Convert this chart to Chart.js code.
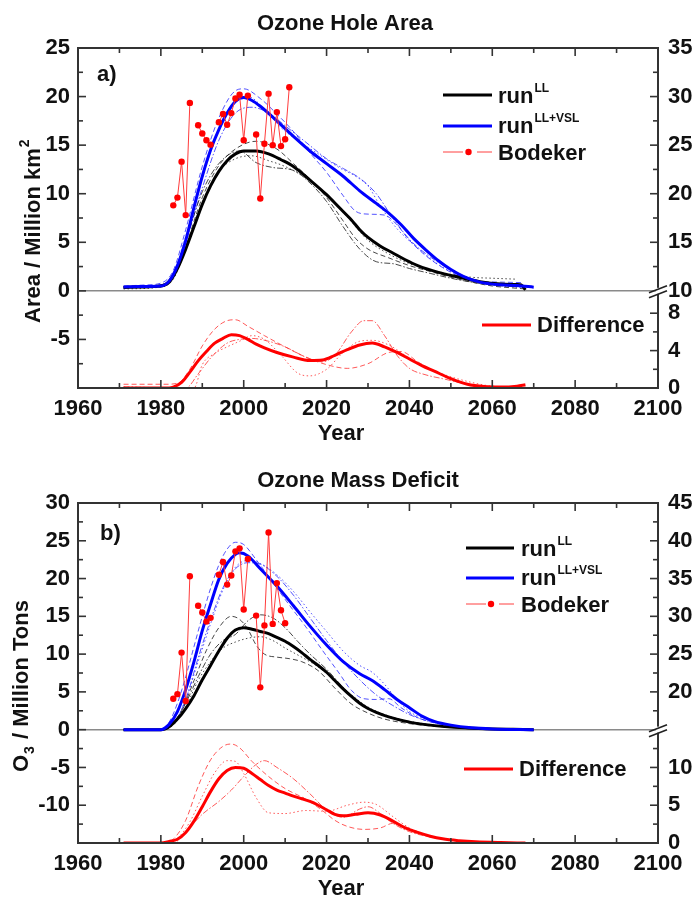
<!DOCTYPE html>
<html><head><meta charset="utf-8">
<script src="https://cdn.jsdelivr.net/npm/chart.js@4.4.0/dist/chart.umd.min.js"></script>
<style>
html,body{margin:0;padding:0;background:#fff;}
#wrap{width:694px;height:897px;position:relative;overflow:hidden;}
.pane{position:absolute;left:0;width:694px;}
</style></head><body>
<div id="wrap">
<div class="pane" style="top:0;height:450px"><canvas id="ca" width="694" height="450"></canvas></div>
<div class="pane" style="top:450px;height:447px"><canvas id="cb" width="694" height="447"></canvas></div>
</div>
<script>
// ---------- tick labels ----------
const xTickYears = [1960, 1980, 2000, 2020, 2040, 2060, 2080, 2100];
const leftTicksA = [-5, 0, 5, 10, 15, 20, 25];
const rightTicksA = [10, 15, 20, 25, 30, 35];
const diffTicksA = [0, 4, 8];
const leftTicksB = [-10, -5, 0, 5, 10, 15, 20, 25, 30];
const rightTicksB = [20, 25, 30, 35, 40, 45];
const diffTicksB = [0, 5, 10];

// ---------- panel a: Ozone hole area (million km2) ----------
const areaLL = [[1971,0.35],[1975,0.4],[1980,0.5],[1982,0.9],[1984,2.3],[1986,4.3],[1988,6.6],[1990,8.9],[1992,10.8],[1994,12.3],[1996,13.4],[1998,14.1],[2000,14.4],[2003,14.4],[2006,14.1],[2009,13.5],[2012,12.8],[2016,11.4],[2020,9.9],[2023,8.6],[2026,7.3],[2028,6.3],[2030,5.5],[2033,4.6],[2036,3.9],[2039,3.2],[2042,2.6],[2047,1.9],[2052,1.4],[2057,0.95],[2062,0.7],[2066,0.65],[2067,0.6],[2068,0.1]];
const areaVSL = [[1971,0.4],[1975,0.45],[1980,0.5],[1982,1.0],[1984,2.6],[1986,5.2],[1988,8.6],[1990,11.8],[1992,14.5],[1994,16.6],[1996,18.3],[1998,19.5],[2000,19.9],[2002,19.6],[2004,19.0],[2008,17.5],[2012,15.9],[2016,14.4],[2020,13.1],[2024,11.8],[2028,10.3],[2032,9.0],[2035,8.0],[2038,6.8],[2041,5.4],[2044,4.2],[2047,3.1],[2050,2.2],[2053,1.5],[2057,0.9],[2062,0.62],[2066,0.55],[2070,0.38]];
const areaLL_m1 = [[1971,0.3],[1976,0.4],[1980,0.5],[1983,1.5],[1986,4.6],[1990,9.6],[1994,12.9],[1998,14.6],[2003,15.4],[2008,14.6],[2012,13.1],[2016,11.5],[2020,9.6],[2024,7.2],[2027,5.4],[2030,4.3],[2035,3.4],[2040,2.6],[2045,2.0],[2050,1.4],[2055,0.9],[2060,0.5],[2065,0.3],[2068,0.2]];
const areaLL_m2 = [[1971,0.4],[1980,0.6],[1983,1.8],[1986,5.2],[1990,10.2],[1994,13.1],[1999,14.4],[2003,13.2],[2007,12.7],[2012,12.4],[2016,11.1],[2020,9.2],[2024,6.6],[2028,4.3],[2032,3.0],[2036,2.8],[2040,2.3],[2045,1.8],[2050,1.3],[2055,0.9],[2060,0.6],[2066,0.4]];
const areaLL_m3 = [[1971,0.2],[1980,0.4],[1983,1.2],[1986,4.3],[1990,9.1],[1994,12.3],[1998,13.6],[2002,13.9],[2006,13.4],[2010,12.8],[2015,11.6],[2020,9.8],[2025,7.6],[2030,5.2],[2035,3.8],[2040,2.8],[2045,2.2],[2050,1.7],[2055,1.4],[2060,1.3],[2066,1.2]];
const areaVSL_m1 = [[1971,0.5],[1976,0.6],[1980,0.8],[1983,2.1],[1986,6.3],[1990,12.8],[1994,17.8],[1998,20.6],[2000,20.8],[2004,19.8],[2008,18.2],[2012,16.4],[2016,14.2],[2020,12.2],[2024,9.8],[2027,8.2],[2030,7.9],[2034,7.8],[2037,6.8],[2040,5.2],[2044,3.6],[2048,2.4],[2052,1.5],[2056,1.0],[2062,0.9],[2067,0.85]];
const areaVSL_m2 = [[1971,0.4],[1980,0.6],[1983,1.5],[1986,5.0],[1990,10.6],[1994,15.5],[1998,18.3],[2002,18.9],[2006,18.3],[2010,17.0],[2015,15.3],[2020,13.6],[2024,12.6],[2028,11.6],[2032,10.0],[2036,7.5],[2040,5.3],[2045,3.5],[2050,2.2],[2055,1.2],[2060,0.7],[2066,0.4]];
const areaVSL_m3 = [[1971,0.4],[1980,0.6],[1983,1.7],[1986,5.6],[1990,11.6],[1994,16.6],[1998,19.6],[2001,20.0],[2005,18.7],[2009,16.8],[2013,15.5],[2018,14.1],[2023,12.7],[2027,11.8],[2030,10.8],[2033,8.7],[2037,6.4],[2042,4.4],[2047,2.7],[2052,1.6],[2057,0.9],[2062,0.6],[2068,0.3]];
const bodekerYears = [1983,1984,1985,1986,1987,1988,1989,1990,1991,1992,1993,1994,1995,1996,1997,1998,1999,2000,2001,2002,2003,2004,2005,2006,2007,2008,2009,2010,2011];
const bodekerArea = [8.8,9.6,13.3,7.8,19.35,null,17.05,16.2,15.5,15.05,null,17.35,18.2,17.1,18.3,19.8,20.2,15.5,20.1,null,16.1,9.5,15.15,20.3,15.0,18.4,14.9,15.6,20.96];
const diffArea = [[1971,0],[1982,0],[1983,0.1],[1985,0.6],[1987,1.7],[1989,2.9],[1991,3.9],[1993,4.8],[1995,5.3],[1997,5.7],[1999,5.6],[2001,5.2],[2003,4.7],[2005,4.3],[2008,3.8],[2012,3.3],[2016,2.95],[2019,3.0],[2022,3.5],[2025,4.1],[2028,4.6],[2031,4.8],[2034,4.4],[2037,3.8],[2040,3.1],[2043,2.4],[2046,1.8],[2050,1.0],[2054,0.4],[2058,0.15],[2062,0.1],[2066,0.2],[2068,0.35]];
const diffArea_m1 = [[1971,0.4],[1981,0.4],[1984,0.5],[1987,2.0],[1990,4.5],[1993,6.3],[1996,7.2],[1998,7.3],[2001,6.6],[2005,5.6],[2010,4.4],[2015,3.3],[2020,2.5],[2025,2.1],[2030,2.6],[2035,3.8],[2038,3.9],[2042,2.8],[2046,1.8],[2050,0.9],[2055,0.3],[2060,0.1]];
const diffArea_m2 = [[1971,0.1],[1988,0.0],[1990,2.5],[1993,3.7],[1996,4.4],[1999,5.0],[2002,5.6],[2005,5.2],[2009,3.5],[2013,1.6],[2016,1.3],[2020,2.0],[2024,3.8],[2028,5.0],[2031,5.1],[2035,4.6],[2040,3.2],[2045,2.0],[2050,1.2],[2055,0.6],[2060,0.2],[2068,0.1]];
const diffArea_m3 = [[1971,0.1],[1986,0.0],[1989,1.5],[1992,3.2],[1996,4.8],[1999,5.2],[2002,5.3],[2006,5.0],[2010,4.4],[2015,3.3],[2019,2.8],[2022,3.5],[2026,6.0],[2029,7.2],[2031,7.2],[2034,5.6],[2037,3.5],[2040,2.1],[2044,1.4],[2048,1.0],[2052,0.6],[2056,0.3],[2062,0.1]];

// ---------- panel b: Ozone mass deficit (million tons) ----------
const massLL = [[1971,0],[1980,0],[1982,0.4],[1984,1.4],[1986,2.8],[1988,4.5],[1990,6.6],[1992,8.5],[1994,10.4],[1996,12.1],[1998,13.2],[2000,13.5],[2002,13.3],[2004,13.0],[2006,12.7],[2008,12.2],[2010,11.7],[2012,11.0],[2014,10.2],[2016,9.3],[2018,8.5],[2020,7.6],[2022,6.5],[2024,5.4],[2026,4.4],[2028,3.5],[2030,2.8],[2032,2.3],[2035,1.7],[2040,1.0],[2045,0.6],[2050,0.35],[2055,0.2],[2060,0.1],[2065,0.05],[2070,0]];
const massVSL = [[1971,0],[1980,0],[1982,0.7],[1984,2.4],[1986,5.3],[1988,9.0],[1990,13.1],[1992,16.6],[1994,19.9],[1996,22.0],[1998,23.2],[1999,23.4],[2001,23.0],[2004,21.3],[2008,19.0],[2012,16.4],[2016,13.7],[2020,11.2],[2024,9.0],[2028,7.4],[2031,6.5],[2034,5.3],[2037,4.0],[2040,2.9],[2043,1.8],[2046,1.1],[2050,0.6],[2055,0.25],[2060,0.1],[2070,0]];
const massLL_m1 = [[1971,0],[1980,0],[1982,0.5],[1985,2.5],[1988,6.5],[1991,10.5],[1994,13.5],[1997,15.0],[1999,14.6],[2001,13.3],[2003,11.2],[2005,10.0],[2008,9.6],[2011,9.4],[2014,9.0],[2018,7.8],[2022,5.5],[2026,3.4],[2030,2.2],[2034,1.4],[2040,0.8],[2045,0.5],[2050,0.3],[2055,0.1],[2062,0]];
const massLL_m2 = [[1971,0],[1980,0],[1983,0.7],[1986,3.5],[1989,7.0],[1992,10.0],[1995,11.8],[1998,12.6],[2001,14.4],[2004,15.2],[2007,14.8],[2010,13.5],[2013,11.7],[2016,10.0],[2020,8.0],[2024,5.6],[2028,3.5],[2032,2.3],[2036,1.6],[2040,1.1],[2045,0.6],[2050,0.3],[2056,0.1],[2064,0]];
const massLL_m3 = [[1971,0],[1980,0],[1983,0.6],[1986,3.0],[1989,6.5],[1992,9.0],[1995,10.8],[1998,11.6],[2001,12.1],[2004,12.3],[2007,11.8],[2010,10.8],[2014,9.6],[2018,8.3],[2022,6.5],[2026,4.6],[2030,3.0],[2034,2.0],[2038,1.3],[2042,0.9],[2048,0.5],[2055,0.2],[2062,0.05]];
const massVSL_m1 = [[1971,0],[1980,0],[1982,1.0],[1984,3.5],[1986,7.0],[1988,11.0],[1990,15.0],[1992,18.7],[1994,21.8],[1996,23.9],[1998,24.8],[2000,24.5],[2003,22.5],[2007,19.5],[2011,16.5],[2015,13.6],[2019,10.5],[2023,7.5],[2026,5.2],[2029,4.1],[2032,4.0],[2035,4.1],[2038,2.9],[2042,1.6],[2046,0.9],[2050,0.5],[2055,0.2],[2062,0.05]];
const massVSL_m2 = [[1971,0],[1980,0],[1983,0.8],[1986,4.0],[1989,9.5],[1992,14.5],[1995,18.8],[1998,21.3],[2001,22.1],[2004,21.9],[2008,20.3],[2012,17.8],[2016,14.8],[2020,11.8],[2024,9.0],[2028,6.6],[2032,4.6],[2036,3.2],[2040,2.0],[2044,1.2],[2048,0.7],[2053,0.3],[2060,0.05]];
const massVSL_m3 = [[1971,0],[1980,0],[1983,0.7],[1986,4.0],[1989,9.0],[1992,14.0],[1995,18.5],[1998,21.5],[2001,22.4],[2004,22.0],[2008,20.5],[2012,18.3],[2016,15.6],[2020,13.0],[2024,10.4],[2028,8.5],[2031,7.6],[2034,6.0],[2037,4.0],[2040,2.4],[2044,1.4],[2048,0.8],[2052,0.4],[2060,0.1]];
const bodekerMass = [4.1,4.7,10.2,3.8,20.3,null,16.4,15.5,14.3,14.8,null,20.5,22.2,19.2,20.4,23.6,24.0,15.9,22.6,null,15.1,5.6,13.8,26.1,14.0,19.4,15.8,14.1,null];
const diffMass = [[1971,0],[1980,0],[1982,0.2],[1984,0.5],[1986,1.4],[1988,2.9],[1990,4.8],[1992,6.8],[1994,8.5],[1996,9.6],[1998,10.0],[2000,9.9],[2002,9.2],[2004,8.4],[2006,7.6],[2008,7.0],[2010,6.6],[2012,6.2],[2014,5.85],[2016,5.5],[2018,5.0],[2020,4.4],[2022,3.8],[2024,3.6],[2027,3.8],[2030,4.0],[2033,3.7],[2036,2.9],[2039,2.0],[2042,1.4],[2045,0.9],[2048,0.55],[2052,0.3],[2056,0.15],[2062,0.05],[2068,0]];
const diffMass_m1 = [[1971,0],[1981,0],[1983,0.5],[1986,3.0],[1989,7.5],[1992,11.0],[1995,12.8],[1997,13.1],[1999,12.6],[2002,10.8],[2006,8.8],[2010,7.2],[2015,5.8],[2019,4.3],[2022,3.0],[2025,2.2],[2029,1.8],[2033,2.0],[2036,2.6],[2039,2.0],[2043,1.2],[2047,0.6],[2052,0.3],[2058,0.1],[2066,0]];
const diffMass_m2 = [[1971,0],[1982,0],[1984,0.6],[1987,2.8],[1990,6.2],[1993,9.3],[1996,10.9],[1998,10.8],[2000,9.2],[2003,6.0],[2006,4.0],[2010,3.9],[2015,4.3],[2020,4.2],[2025,5.0],[2029,5.4],[2032,5.1],[2036,3.5],[2040,2.0],[2044,1.1],[2048,0.6],[2052,0.3],[2058,0.1]];
const diffMass_m3 = [[1971,0],[1983,0],[1986,1.5],[1990,3.8],[1994,5.5],[1997,7.0],[2000,8.8],[2003,10.4],[2005,10.9],[2008,10.0],[2012,8.5],[2016,6.5],[2020,4.4],[2024,3.4],[2028,4.5],[2030,4.8],[2033,3.9],[2036,2.6],[2040,1.5],[2045,0.8],[2050,0.4],[2056,0.15],[2062,0]];

// ---------- drawing ----------
const FONT = "'Liberation Sans', Arial, Helvetica, sans-serif";
const TXT = '#111';
const DASH = [5, 3], DOT = [1.5, 2.5], DASHDOT = [6, 2, 1.5, 2];

function pts(arr) { return arr.map(([x, y]) => ({ x, y })); }
function ln(arr, color, width, dash, axis, order) {
  return { data: pts(arr), borderColor: color, borderWidth: width, borderDash: dash, pointRadius: 0,
    fill: false, yAxisID: axis, cubicInterpolationMode: 'monotone', order: order };
}

function makePanel(canvasId, P) {
  const datasets = [
    { data: bodekerYears.map((x, i) => ({ x, y: P.bodeker[i] })), borderColor: '#ff3b3b', borderWidth: 1,
      pointRadius: 3.2, pointBackgroundColor: '#ff0000', pointBorderWidth: 0, spanGaps: false,
      tension: 0, yAxisID: 'y', order: 0 },
    ln(P.vsl, '#0000ff', 3, [], 'y', 1),
    ln(P.ll, '#000000', 3, [], 'y', 1),
    ln(P.diff, '#ff0000', 3, [], P.diffAxis, 1),
    ln(P.llM[0], 'rgba(40,40,40,0.85)', 1, DASH, 'y', 2),
    ln(P.llM[1], 'rgba(40,40,40,0.85)', 1, DASHDOT, 'y', 2),
    ln(P.llM[2], 'rgba(40,40,40,0.85)', 1, DOT, 'y', 2),
    ln(P.vslM[0], 'rgba(40,40,255,0.8)', 1, DASH, 'y', 2),
    ln(P.vslM[1], 'rgba(40,40,255,0.8)', 1, DASHDOT, 'y', 2),
    ln(P.vslM[2], 'rgba(40,40,255,0.8)', 1, DOT, 'y', 2),
    ln(P.diffM[0], 'rgba(255,60,60,0.85)', 1, DASH, P.diffAxis, 2),
    ln(P.diffM[1], 'rgba(255,60,60,0.85)', 1, DOT, P.diffAxis, 2),
    ln(P.diffM[2], 'rgba(255,60,60,0.85)', 1, DASHDOT, P.diffAxis, 2),
  ];
  const tickFont = { family: FONT, size: 22, weight: 'bold' };

  const deco = {
    id: 'deco',
    beforeDatasetsDraw(chart) {
      const { ctx, chartArea: a, scales } = chart;
      const y0 = scales.y.getPixelForValue(0);
      ctx.save(); ctx.strokeStyle = '#8a8a8a'; ctx.lineWidth = 1.5;
      ctx.beginPath(); ctx.moveTo(a.left, y0); ctx.lineTo(a.right, y0); ctx.stroke(); ctx.restore();
    },
    afterDatasetsDraw(chart) {
      const { ctx, chartArea: a, scales } = chart;
      const sx = scales.x, sy = scales.y, s2 = scales.y2;
      ctx.save();
      ctx.strokeStyle = '#333'; ctx.lineCap = 'butt';
      const seg = (x1, y1, x2, y2) => { ctx.beginPath(); ctx.moveTo(x1, y1); ctx.lineTo(x2, y2); ctx.stroke(); };
      const MA = 8, MI = 5;
      ctx.lineWidth = 1.6;
      for (let yr = 1960; yr <= 2100; yr += 10) {
        const px = sx.getPixelForValue(yr), L = yr % 20 === 0 ? MA : MI;
        seg(px, a.bottom, px, a.bottom - L); seg(px, a.top, px, a.top + L);
      }
      for (let v = P.ymin; v <= P.ymax + 1e-6; v += 2.5) {
        const py = sy.getPixelForValue(v), L = Math.abs(v % 5) < 1e-6 ? MA : MI;
        seg(a.left, py, a.left + L, py);
      }
      P.rightMinor.forEach(v => { const py = s2.getPixelForValue(v); seg(a.right, py, a.right - MI, py); });
      P.rightMajor.forEach(v => { const py = s2.getPixelForValue(v); seg(a.right, py, a.right - MA, py); });
      // frame
      ctx.lineWidth = 2; ctx.strokeStyle = '#333';
      ctx.strokeRect(a.left, a.top, a.right - a.left, a.bottom - a.top);
      // axis break
      const y0 = sy.getPixelForValue(0);
      ctx.fillStyle = '#fff'; ctx.fillRect(a.right - 2, y0 - 3, 4, 6);
      ctx.lineWidth = 1.6; ctx.strokeStyle = '#222';
      seg(a.right - 9, y0 + 2, a.right + 9, y0 - 5);
      seg(a.right - 9, y0 + 7, a.right + 9, y0);
      ctx.restore();
    },
    afterDraw(chart) {
      const { ctx } = chart;
      const L = P.legend;
      ctx.save();
      ctx.fillStyle = TXT; ctx.textBaseline = 'alphabetic';
      const big = 'bold 22px ' + FONT, small = 'bold 12px ' + FONT;
      ctx.font = big; ctx.textAlign = 'center';
      ctx.fillText(P.title, P.titleX, P.titleY);
      ctx.fillText('Year', 341, P.yearY);
      ctx.textAlign = 'left';
      ctx.fillText(P.tag, P.tagX, P.tagY);
      ctx.save();
      ctx.translate(P.ytX, P.ytY); ctx.rotate(-Math.PI / 2);
      let cx = 0;
      P.ytParts.forEach(([t, kind]) => {
        if (kind === 'n') { ctx.font = big; ctx.fillText(t, cx, 0); cx += ctx.measureText(t).width; }
        else if (kind === 'sup') { ctx.font = 'bold 14px ' + FONT; ctx.fillText(t, cx + 1, -11); cx += ctx.measureText(t).width + 1; }
        else { ctx.font = 'bold 14px ' + FONT; ctx.fillText(t, cx + 1, 6); cx += ctx.measureText(t).width + 2; }
      });
      ctx.restore();
      const seg = (x1, y1, x2, y2) => { ctx.beginPath(); ctx.moveTo(x1, y1); ctx.lineTo(x2, y2); ctx.stroke(); };
      ctx.lineWidth = 3; ctx.strokeStyle = '#000'; seg(L.x1, L.yLL, L.x2, L.yLL);
      ctx.strokeStyle = '#0000ff'; seg(L.x1, L.yVSL, L.x2, L.yVSL);
      ctx.lineWidth = 1; ctx.strokeStyle = '#ff4040';
      seg(L.x1, L.yB, L.x1 + 20, L.yB); seg(L.x2 - 15, L.yB, L.x2, L.yB);
      ctx.fillStyle = '#ff0000'; ctx.beginPath(); ctx.arc((L.x1 + L.x2) / 2 + 1, L.yB, 3.2, 0, Math.PI * 2); ctx.fill();
      ctx.lineWidth = 3; ctx.strokeStyle = '#ff0000'; seg(L.dx1, L.yD, L.dx2, L.yD);
      ctx.fillStyle = TXT; ctx.font = big;
      ctx.fillText('run', L.tx, L.yLL + 8);
      const w = ctx.measureText('run').width;
      ctx.fillText('run', L.tx, L.yVSL + 7);
      ctx.fillText('Bodeker', L.tx, L.yB + 8);
      ctx.fillText('Difference', L.dx2 + 6, L.yD + 7);
      ctx.font = small;
      ctx.fillText('LL', L.tx + w + 1, L.yLL - 3);
      ctx.fillText('LL+VSL', L.tx + w + 1, L.yVSL - 4);
      ctx.restore();
    }
  };

  const scales = {
    x: { type: 'linear', min: 1960, max: 2100,
      afterBuildTicks: s => { s.ticks = xTickYears.map(v => ({ value: v })); },
      ticks: { font: tickFont, color: TXT, padding: 8, maxRotation: 0, autoSkip: false, callback: v => String(v) },
      grid: { display: false, drawTicks: false }, border: { display: false },
      afterFit: s => { s.height = P.xHeight; } },
    y: { type: 'linear', position: 'left', min: P.ymin, max: P.ymax,
      afterBuildTicks: s => { s.ticks = P.leftTicks.map(v => ({ value: v })); },
      ticks: { font: tickFont, color: TXT, padding: 8, autoSkip: false, callback: v => String(v) },
      grid: { display: false, drawTicks: false }, border: { display: false },
      afterFit: s => { s.width = 78; } },
    y2: { type: 'linear', position: 'right', min: P.y2min, max: P.y2max,
      afterBuildTicks: s => { s.ticks = P.rightLabelVals.map(v => ({ value: v })); },
      ticks: { font: tickFont, color: TXT, padding: 10, autoSkip: false, callback: v => P.rightLabel(v) },
      grid: { display: false, drawTicks: false }, border: { display: false },
      afterFit: s => { s.width = 36; } }
  };
  if (P.diffAxis === 'y3') scales.y3 = { type: 'linear', display: false, min: 0, max: P.y3max };

  return new Chart(document.getElementById(canvasId), {
    type: 'line',
    data: { datasets },
    options: { responsive: false, animation: false, devicePixelRatio: 1,
      layout: { padding: { top: P.padTop, left: 0, right: 0, bottom: 0 } },
      plugins: { legend: { display: false }, tooltip: { enabled: false }, title: { display: false } },
      scales },
    plugins: [deco]
  });
}

const kA = 0.9625; // lower-right (difference) scale factor for panel a
makePanel('ca', {
  title: 'Ozone Hole Area', titleX: 345, titleY: 30, yearY: 440, tag: 'a)', tagX: 97, tagY: 81,
  ytX: 40, ytY: 323, ytParts: [['Area / Million km', 'n'], ['2', 'sup']],
  ymin: -10, ymax: 25, y2min: 0, y2max: 35, y3max: 35 / kA, padTop: 48, xHeight: 62,
  leftTicks: leftTicksA,
  rightLabelVals: rightTicksA.concat(diffTicksA.map(d => d * kA)),
  rightLabel: v => v >= 9.99 ? String(Math.round(v)) : String(Math.round(v / kA)),
  rightMajor: [15, 20, 25, 30, 35].concat(diffTicksA.map(d => d * kA)),
  rightMinor: [12.5, 17.5, 22.5, 27.5, 32.5, 2 * kA, 6 * kA],
  ll: areaLL, vsl: areaVSL, llM: [areaLL_m1, areaLL_m2, areaLL_m3], vslM: [areaVSL_m1, areaVSL_m2, areaVSL_m3],
  diff: diffArea, diffM: [diffArea_m1, diffArea_m2, diffArea_m3], diffAxis: 'y3', bodeker: bodekerArea,
  legend: { x1: 443, x2: 492, tx: 498, yLL: 95, yVSL: 126, yB: 152, dx1: 482, dx2: 531, yD: 325 }
});
makePanel('cb', {
  title: 'Ozone Mass Deficit', titleX: 358, titleY: 37, yearY: 445, tag: 'b)', tagX: 100, tagY: 90,
  ytX: 28, ytY: 322, ytParts: [['O', 'n'], ['3', 'sub'], [' / Million Tons', 'n']],
  ymin: -15, ymax: 30, y2min: 0, y2max: 45, padTop: 53, xHeight: 54,
  leftTicks: leftTicksB,
  rightLabelVals: rightTicksB.concat(diffTicksB),
  rightLabel: v => String(Math.round(v)),
  rightMajor: [20, 25, 30, 35, 40, 45, 0, 5, 10],
  rightMinor: [17.5, 22.5, 27.5, 32.5, 37.5, 42.5, 2.5, 7.5, 12.5],
  ll: massLL, vsl: massVSL, llM: [massLL_m1, massLL_m2, massLL_m3], vslM: [massVSL_m1, massVSL_m2, massVSL_m3],
  diff: diffMass, diffM: [diffMass_m1, diffMass_m2, diffMass_m3], diffAxis: 'y2', bodeker: bodekerMass,
  legend: { x1: 466, x2: 514, tx: 521, yLL: 98, yVSL: 128, yB: 154, dx1: 464, dx2: 513, yD: 319 }
});
</script>
</body></html>
